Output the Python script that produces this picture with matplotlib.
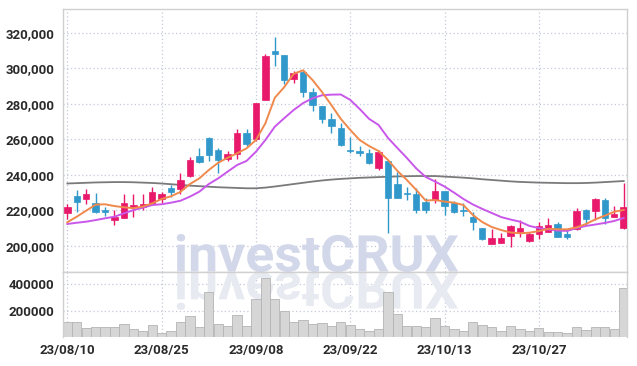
import matplotlib
matplotlib.use("Agg")
import matplotlib.pyplot as plt
from matplotlib.textpath import TextPath
from matplotlib.patches import PathPatch
from matplotlib.font_manager import FontProperties
from matplotlib.transforms import Affine2D
from matplotlib.ticker import FuncFormatter

plt.rcParams['font.family'] = ['Roboto', 'DejaVu Sans']

# trading days, labels every 10 sessions
tick_idx = [0, 10, 20, 30, 40, 50]
tick_labels = ["23/08/10", "23/08/25", "23/09/08", "23/09/22", "23/10/13", "23/10/27"]

opens = [218800, 228200, 226600, 224400, 219800, 214800, 215900, 222000, 221800, 223700,
         226300, 232800, 232000, 239600, 250700, 261000, 254100, 248800, 251700, 263500,
         260100, 282300, 309900, 307600, 294100, 298200, 286600, 278900, 271500, 266300,
         253800, 253700, 252200, 243800, 247900, 234900, 229800, 229300, 225000, 225900,
         231000, 224100, 220100, 216500, 210100, 201000, 201900, 205500, 208100, 202700,
         206600, 208100, 212400, 206800, 209400, 220300, 219900, 225900, 216500, 210000]
highs = [223700, 231500, 232000, 229700, 222100, 220300, 229100, 229100, 229100, 233400,
         230600, 234400, 241000, 250000, 255000, 261500, 255000, 253700, 265700, 265900,
         280600, 308200, 317600, 307800, 298800, 299200, 288900, 279000, 274800, 269500,
         261600, 256300, 254500, 254100, 248000, 241900, 233400, 232500, 226900, 237600,
         231200, 225400, 224400, 219300, 210200, 209400, 207200, 211800, 214700, 208100,
         213700, 215600, 213500, 209000, 221200, 220700, 227200, 226900, 222500, 235300]
lows = [215200, 219300, 223700, 218400, 216900, 211800, 215500, 216500, 220300, 223100,
        224100, 227800, 229300, 239000, 246800, 248100, 241300, 248100, 249000, 256300,
        259300, 282000, 301600, 291100, 291700, 284100, 276100, 269500, 263500, 256300,
        252200, 250700, 246200, 242800, 207200, 226900, 225900, 218800, 218800, 224100,
        217300, 218400, 216900, 209000, 203400, 200900, 201500, 199300, 205200, 202400,
        203800, 207900, 205000, 203900, 209000, 211800, 214700, 212200, 216300, 209800]
closes = [221800, 224600, 229300, 219300, 219400, 216300, 224200, 223100, 223700, 230400,
          229300, 230400, 237200, 248500, 247500, 251300, 248500, 251800, 263500, 257300,
          280400, 307200, 308200, 293500, 297600, 286900, 279600, 271400, 267800, 256900,
          253300, 252200, 246600, 253100, 227200, 227200, 229400, 220300, 220300, 231000,
          222700, 219300, 219700, 213400, 204100, 204300, 204500, 211100, 210000, 206800,
          211300, 211800, 205200, 205200, 219700, 215200, 226300, 215600, 218000, 221800]

ma5 = [213400, 216500, 219900, 223300, 223500, 222500, 221800, 221300, 222200, 224000,
       226500, 228000, 230500, 234900, 238100, 242800, 246900, 249700, 252200, 255000,
       259700, 269100, 283500, 289500, 297000, 299000, 293500, 286800, 279400, 271600,
       265400, 259700, 256300, 253500, 248500, 242300, 237200, 231600, 225600, 225900,
       225000, 224400, 223100, 217500, 213500, 210700, 209000, 207600, 207150, 207500,
       208400, 209700, 209400, 209400, 210500, 212400, 215000, 217100, 219300, 220300]
ma10 = [212400, 213100, 213700, 214600, 215600, 216500, 218400, 220200, 221600, 223100,
        223500, 224400, 225500, 227800, 230600, 234900, 238100, 241900, 245600, 247900,
        253100, 259700, 267200, 272000, 276600, 280500, 283200, 284900, 285250, 285350,
        282300, 277200, 271600, 268200, 260900, 255200, 249600, 243700, 238900, 236300,
        233500, 230100, 226500, 223400, 220900, 218600, 216300, 214900, 213700, 211300,
        210100, 209300, 208700, 208500, 210100, 211300, 212100, 213000, 214100, 215800]
ma60 = [235200, 235400, 235600, 235800, 235900, 236000, 236000, 235900, 235700, 235500,
        235200, 234800, 234400, 234000, 233700, 233400, 233100, 232900, 232700, 232500,
        232500, 232900, 233500, 234200, 234900, 235600, 236300, 236900, 237400, 237800,
        238100, 238400, 238600, 238800, 239000, 239200, 239300, 239400, 239400, 239400,
        239100, 238800, 238500, 238100, 237600, 237200, 236800, 236400, 236100, 235900,
        235700, 235600, 235500, 235400, 235400, 235500, 235700, 236000, 236300, 236600]

volume = [117600, 117600, 73700, 81000, 81000, 81000, 103000, 66400, 51800, 95700,
          37200, 51800, 117600, 161400, 81000, 336700, 103000, 90500, 171000, 90500,
          285600, 439000, 285600, 202300, 122000, 132200, 103000, 110300, 90500, 117600,
          97900, 66400, 51800, 66400, 341100, 176000, 90500, 90500, 81000, 146800,
          90500, 66400, 51800, 117600, 97900, 81000, 51800, 90500, 66400, 51800,
          73700, 44500, 44500, 37200, 81000, 59100, 81000, 81000, 66400, 366000]

UP = '#e8196a'
DOWN = '#3098cb'
GRID = '#c5c8da'
FRAME = '#d0d0d0'
TXT = '#2a2a2a'
FS = 9.5

W, H = 637, 366
fig = plt.figure(figsize=(W / 100, H / 100), dpi=100)
left, right = 63, 627
ax = fig.add_axes([left / W, 1 - 272 / H, (right - left) / W, (272 - 9) / H])
axv = fig.add_axes([left / W, 1 - 337.3 / H, (right - left) / W, (337.3 - 272) / H], sharex=ax)

x = list(range(len(opens)))

# watermark, plus its mirror image in the volume panel
fp = FontProperties(family=['Roboto', 'DejaVu Sans'], weight='bold')
tp = TextPath((0, 0), "investCRUX", prop=fp, size=50)
ext = tp.get_extents()
sx = (458.3 - 176.7) / ext.width
sy = (272 - 234) / ext.height
base_y = H - 272
trf = Affine2D().translate(-ext.x0, -ext.y0).scale(sx, sy).translate(176.7, base_y)
ax.add_artist(PathPatch(tp, transform=trf, facecolor='#d2d8ea', edgecolor='none', zorder=0.8))
trf_r = Affine2D().translate(-ext.x0, -ext.y0).scale(sx, -sy).translate(176.7, base_y)
axv.add_artist(PathPatch(tp, transform=trf_r, facecolor='#e8eaf2', edgecolor='none', zorder=0.8))

# candles
cols = [UP if c >= o else DOWN for o, c in zip(opens, closes)]
ax.vlines(x, lows, highs, colors=cols, linewidth=1.0, zorder=3)
bottoms = [min(o, c) for o, c in zip(opens, closes)]
heights = [max(abs(c - o), 600) for o, c in zip(opens, closes)]
ax.bar(x, heights, bottom=bottoms, width=0.68, color=cols, edgecolor=cols, linewidth=0.5, zorder=4)

# moving averages
ax.plot(x, ma60, color='#7a7a7a', lw=1.3, zorder=2.5)
ax.plot(x, ma10, color='#c857ea', lw=1.4, zorder=5)
ax.plot(x, ma5, color='#f0894c', lw=1.4, zorder=6)

ax.set_ylim(185350, 333500)
ax.set_xlim(-0.46, 59.35)
ax.set_yticks([200000, 220000, 240000, 260000, 280000, 300000, 320000])
ax.yaxis.set_major_formatter(FuncFormatter(lambda v, p: f"{int(v):,}"))
ax.set_xticks(tick_idx)
ax.tick_params(axis='x', labelbottom=False, length=0)
ax.tick_params(axis='y', length=0, pad=6, labelsize=FS, labelcolor=TXT)

# volume
axv.bar(x, volume, width=0.98, color='#d6d6d6', edgecolor='#b4b4b4', linewidth=0.6, zorder=2)
axv.set_ylim(8000, 485000)
axv.set_yticks([200000, 400000])
axv.set_xticks(tick_idx)
axv.set_xticklabels(tick_labels)
axv.tick_params(axis='x', length=0, pad=5, labelsize=FS, labelcolor=TXT)
axv.tick_params(axis='y', length=0, pad=6, labelsize=FS, labelcolor=TXT)

for a in (ax, axv):
    a.set_facecolor('white')
    a.set_axisbelow(True)
    a.grid(True, color=GRID, linestyle=(0, (1, 2)), linewidth=0.9)
    for s in a.spines.values():
        s.set_color(FRAME)
        s.set_linewidth(1.0)
    for lab in a.get_xticklabels() + a.get_yticklabels():
        lab.set_fontweight('bold')
axv.spines['bottom'].set_visible(False)

fig.savefig("out.png", dpi=100)
